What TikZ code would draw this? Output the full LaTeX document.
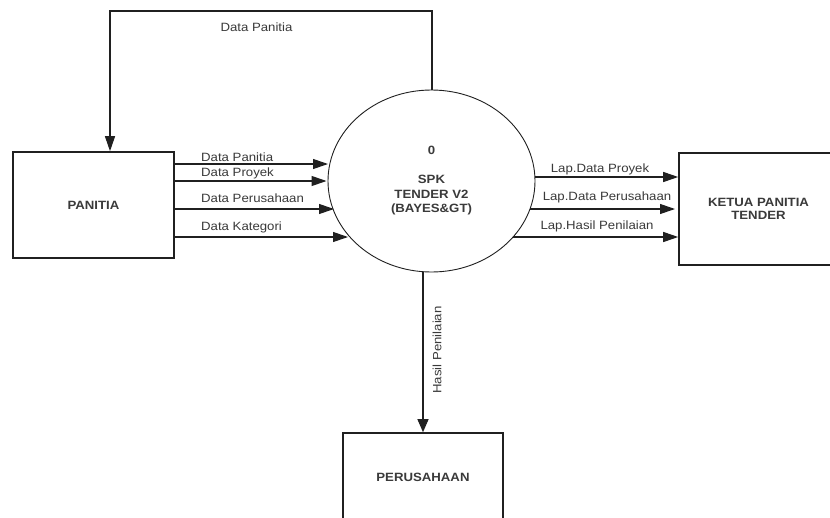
\documentclass[tikz,border=0pt]{standalone}
\usepackage{fontspec}
\setmainfont{Liberation Sans}[FakeStretch=1.1]
\usetikzlibrary{arrows.meta,shapes.geometric}
\definecolor{txtgray}{HTML}{3A3A3A}
\definecolor{linegray}{HTML}{202020}
\begin{document}
\begin{tikzpicture}[x=1pt,y=-1pt,
  entity/.style={draw=linegray,line width=1.6pt,rectangle,inner sep=0pt,
    font=\fontsize{12}{13.5}\selectfont\bfseries,text=txtgray,align=center},
  proc/.style={draw=linegray,line width=0.9pt,ellipse,inner sep=0pt,
    minimum width=207pt,minimum height=182pt,
    font=\fontsize{12}{14.5}\selectfont\bfseries,text=txtgray,align=center},
  flow/.style={draw=linegray,line width=1.1pt,-{Triangle[length=15pt,width=10pt]}},
  lbl/.style={font=\fontsize{12}{14}\selectfont,text=txtgray,inner sep=0pt}]
\useasboundingbox (0,0) rectangle (830,517);
\clip (0,0) rectangle (830,517);
\fill[white] (0,0) rectangle (830,517);
% nodes
\node[entity,minimum width=161pt,minimum height=106pt] (panitia) at (93.5,205) {PANITIA};
\node[proc] (spk) at (431.5,181) {0\\[14.5pt]SPK\\TENDER V2\\(BAYES\&GT)};
\node[entity,minimum width=159pt,minimum height=112pt] (ketua) at (758.5,209) {KETUA PANITIA\\TENDER};
\node[entity,minimum width=160pt,minimum height=88pt] (perus) at (423,477) {PERUSAHAAN};
% border points
\coordinate (i1) at (328,164);
\coordinate (i2) at (326.5,181);
\coordinate (i3) at (334,209);
\coordinate (i4) at (348,237);
\coordinate (o1) at (535,177);
\coordinate (o2) at (530,209);
\coordinate (o3) at (513,237);
\coordinate (topout) at (432,90);
\coordinate (c1) at (432,11);
\coordinate (c2) at (110,11);
% top feedback flow
\draw[flow] (topout) -- (c1) -- (c2) -- (c2 |- panitia.north);
\node[lbl] (lt) at (256.5,27) {Data Panitia};
% inputs
\draw[flow] (panitia.east |- i1) -- (i1);
\draw[flow] (panitia.east |- i2) -- (i2);
\draw[flow] (panitia.east |- i3) -- (i3);
\draw[flow] (panitia.east |- i4) -- (i4);
\node[lbl,anchor=west] (l1) at (201,157) {Data Panitia};
\node[lbl,anchor=west] (l2) at (201,173.5) {Data Proyek};
\node[lbl,anchor=west] (l3) at (201,198.5) {Data Perusahaan};
\node[lbl,anchor=west] (l4) at (201,227) {Data Kategori};
% outputs
\draw[flow] (o1) -- (ketua.west |- o1);
\draw[flow] (o2) -- (675,209);
\draw[flow] (o3) -- (ketua.west |- o3);
\node[lbl] (r1) at (600,169) {Lap.Data Proyek};
\node[lbl] (r2) at (607,197.5) {Lap.Data Perusahaan};
\node[lbl] (r3) at (597,226) {Lap.Hasil Penilaian};
% down
\draw[flow,-{Triangle[length=13pt,width=11pt]}] (spk.south -| perus.north) -- (perus.north);
\node[lbl,rotate=90] (ld) at (437,350) {Hasil Penilaian};
\end{tikzpicture}
\end{document}
